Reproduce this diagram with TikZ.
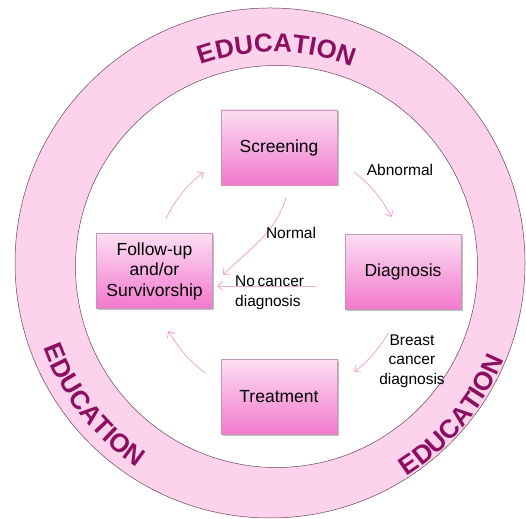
\documentclass[tikz,border=0pt]{standalone}
\usepackage{fontspec}
\setmainfont{Liberation Sans}
\usetikzlibrary{arrows.meta,shadows,decorations.text}
\definecolor{ringpink}{RGB}{252,210,236}
\definecolor{ringline}{RGB}{100,70,90}
\definecolor{boxtop}{RGB}{252,222,243}
\definecolor{boxbot}{RGB}{242,120,205}
\definecolor{boxline}{RGB}{200,150,185}
\definecolor{arrpink}{RGB}{240,170,215}
\definecolor{edu}{RGB}{140,15,95}
\begin{document}
\begin{tikzpicture}[x=1pt,y=1pt,
 stage/.style={rectangle, draw=boxline, line width=0.6pt, top color=boxtop, bottom color=boxbot,
   minimum width=116pt, minimum height=75pt, inner sep=2pt,
   font=\fontsize{17.5}{20.5}\selectfont, align=center,
   drop shadow={shadow xshift=1.5pt, shadow yshift=-1.5pt, opacity=0.25, fill=black}},
 lbl/.style={font=\fontsize{15.5}{19.5}\selectfont, inner sep=0pt},
 flow/.style={draw=arrpink, line width=0.9pt, -{Straight Barb[length=5pt,width=9pt]}},
 edutext/.style={decorate, decoration={text along path, text align=center, text color=edu,
   text={|\fontsize{26}{26}\selectfont\bfseries|EDUCATION}}}
]
\useasboundingbox (0,0) rectangle (526,518);
\coordinate (O1) at (270,255);
\coordinate (O2) at (276.5,251.5);
\coordinate (T) at (273,253);
\coordinate (A) at (279,246);
% ring
\fill[ringpink, even odd rule] (O1) circle[radius=255] (O2) circle[radius=201];
\draw[ringline, line width=0.5pt] (O1) circle[radius=255];
\draw[ringline, line width=0.5pt] (O2) circle[radius=201];
% EDUCATION texts
\path[edutext] ([shift={(149:213)}]T) arc[start angle=149, end angle=29, radius=213];
\path[edutext] ([shift={(168:244)}]T) arc[start angle=168, end angle=268, radius=244];
\path[edutext] ([shift={(-90:250)}]T) arc[start angle=-90, end angle=10, radius=250];
% stages
\node[stage] (scr) at (279,370.5) {Screening};
\node[stage] (dia) at (403,246) {Diagnosis};
\node[stage] (fol) at (154.5,247) {Follow-up\\and/or\\Survivorship};
\node[stage] (tre) at (279,121) {Treatment};
% connectors
\coordinate (ab1) at ([shift={(53:125)}]A);
\draw[flow] (ab1) arc[start angle=53, end angle=26, radius=125];
\coordinate (br1) at ([shift={(-29:125)}]A);
\draw[flow] (br1) arc[start angle=-29, end angle=-53, radius=125];
\coordinate (tf1) at ([shift={(-126:125)}]A);
\draw[flow] (tf1) arc[start angle=-126, end angle=-152, radius=125];
\coordinate (fs1) at ([shift={(155:125)}]A);
\draw[flow] (fs1) arc[start angle=155, end angle=127, radius=125];
\coordinate (no1) at (286,320);
\coordinate (no2) at (223,243);
\draw[flow] (no1) to[out=252, in=45] (no2);
\coordinate (nc1) at (316,232);
\coordinate (nc2) at (217,232);
\draw[flow] (nc1) -- (nc2);
% labels
\node[lbl] (labab) at (400,348) {Abnormal};
\node[lbl] (labno) at (291,285) {Normal};
\node[lbl, anchor=west, align=left] (labnc) at (235,225) {No\,cancer\\diagnosis};
\node[lbl, align=center] (labbr) at (412,157) {Breast\\cancer\\diagnosis};
\end{tikzpicture}
\end{document}
